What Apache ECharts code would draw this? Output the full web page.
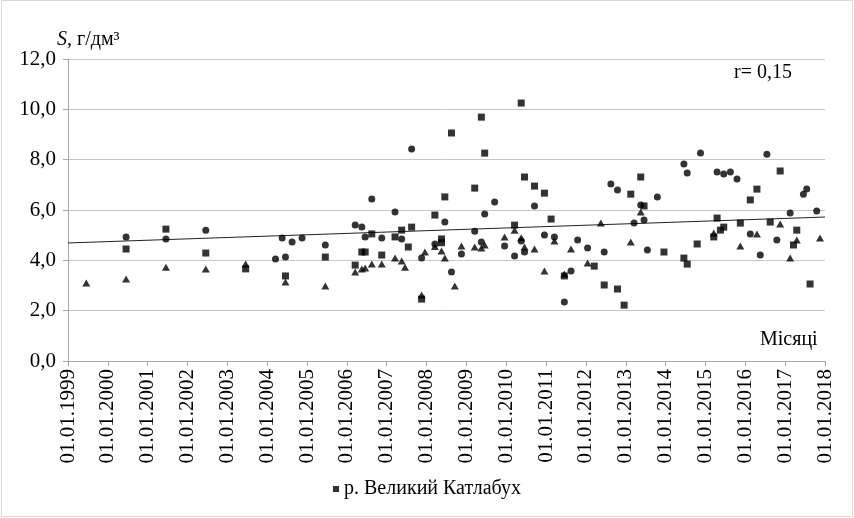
<!DOCTYPE html>
<html>
<head>
<meta charset="utf-8">
<script src="https://cdn.jsdelivr.net/npm/echarts@6/dist/echarts.min.js"></script>
<style>
  html, body { margin: 0; padding: 0; background: #fff; }
  #chart { width: 854px; height: 518px; }
</style>
</head>
<body>
<div id="chart"></div>
<script>
// Sampling dates (year-month) and salinity S, g/dm3, for three observation groups
const squareDates = ['2000-06','2001-06','2002-06','2003-06','2004-06','2005-06','2006-03','2006-05','2006-06','2006-08',
  '2006-11','2007-03','2007-05','2007-07','2007-08','2007-11','2008-03','2008-05','2008-05','2008-06',
  '2008-08','2009-03','2009-05','2009-06','2010-03','2010-05','2010-06','2010-09','2010-12','2011-02',
  '2011-06','2012-03','2012-06','2012-10','2012-12','2013-02','2013-05','2013-06','2013-12','2014-06',
  '2014-07','2014-10','2015-03','2015-04','2015-05','2015-06','2015-11','2016-02','2016-04','2016-08',
  '2016-11','2017-03','2017-04','2017-08'];
const squareValues = [4.45,5.24,4.29,3.66,3.38,4.13,3.81,4.33,4.33,5.05,
  4.21,4.93,5.20,4.53,5.32,2.46,5.80,4.85,4.70,6.52,
  9.06,6.87,9.69,8.26,5.40,10.25,7.31,6.95,6.67,5.64,
  3.38,3.77,3.02,2.86,2.22,6.63,7.31,6.16,4.33,4.09,
  3.85,4.65,4.93,5.68,5.20,5.32,5.48,6.40,6.83,5.52,
  7.55,4.61,5.20,3.06];

const circleDates = ['2000-06','2001-06','2002-06','2004-03','2004-05','2004-06','2004-08','2004-11','2005-06','2006-03',
  '2006-05','2006-06','2006-08','2006-11','2007-03','2007-05','2007-08','2007-11','2008-03','2008-06',
  '2008-08','2008-11','2009-03','2009-05','2009-06','2009-09','2009-12','2010-03','2010-05','2010-06',
  '2010-09','2010-12','2011-03','2011-06','2011-08','2011-10','2012-01','2012-06','2012-08','2012-10',
  '2013-03','2013-05','2013-06','2013-07','2013-10','2014-06','2014-07','2014-11','2015-04','2015-06',
  '2015-08','2015-10','2016-02','2016-05','2016-07','2016-10','2017-02','2017-06','2017-07','2017-10'];
const circleValues = [4.93,4.85,5.20,4.05,4.89,4.13,4.73,4.89,4.61,5.40,
  5.32,4.93,6.44,4.89,5.92,4.85,8.42,4.09,4.65,5.52,
  3.54,4.25,5.16,4.73,5.84,6.32,4.57,4.17,4.77,4.33,
  6.16,5.01,4.93,2.34,3.58,4.81,4.49,4.33,7.03,6.79,
  5.48,6.20,5.60,4.41,6.52,7.83,7.47,8.26,7.51,7.43,
  7.51,7.23,5.05,4.21,8.22,4.81,5.88,6.63,6.83,5.96];

const triangleDates = ['1999-06','2000-06','2001-06','2002-06','2003-06','2004-06','2005-06','2006-03','2006-05','2006-06',
  '2006-08','2006-11','2007-03','2007-05','2007-06','2007-11','2007-12','2008-03','2008-05','2008-06',
  '2008-09','2008-11','2009-03','2009-05','2009-06','2009-12','2010-03','2010-05','2010-06','2010-09',
  '2010-12','2011-03','2011-06','2011-08','2012-01','2012-05','2013-02','2013-05','2015-03','2015-11',
  '2016-04','2016-11','2017-02','2017-04','2017-11'];
const triangleValues = [3.10,3.26,3.73,3.66,3.85,3.14,2.98,3.54,3.66,3.70,
  3.85,3.85,4.09,3.97,3.73,2.62,4.33,4.55,4.37,4.09,
  2.98,4.57,4.53,4.49,4.61,4.93,5.20,4.90,4.53,4.45,
  3.58,4.77,3.46,4.45,3.89,5.48,4.73,5.92,5.09,4.57,
  5.05,5.44,4.09,4.81,4.89];

// Linear trend: years and values at its ends
const trendYears = [1999, 2018];
const trendValues = [4.69, 5.72];

// Axis settings
const yearTicks = { min: 1999, max: 2018, step: 1 };
const valueTicks = { min: 0, max: 12, step: 2 };

const legendName = 'р. Великий Катлабух';
const yTitle = 'S';
const yUnit = ', г/дм³';
const corrText = 'r= 0,15';
const xTitle = 'Місяці';

const SERIF = 'Liberation Serif';

function toYear(s) {
  const [y, m] = s.split('-').map(Number);
  return y + (m - 0.5) / 12;
}
function pairs(dates, values) {
  return dates.map((d, i) => [toYear(d), values[i]]);
}

const chart = echarts.init(document.getElementById('chart'), null, { renderer: 'canvas' });

chart.setOption({
  backgroundColor: '#ffffff',
  animation: false,
  textStyle: { fontFamily: SERIF },
  grid: { left: 68, right: 29, top: 59, bottom: 157, containLabel: false },
  xAxis: {
    type: 'value',
    min: yearTicks.min,
    max: yearTicks.max,
    interval: yearTicks.step,
    axisLine: { show: true, lineStyle: { color: '#a6a6a6', width: 1 } },
    axisTick: { show: true, length: 5, lineStyle: { color: '#a6a6a6' } },
    splitLine: { show: false },
    axisLabel: {
      rotate: 90,
      margin: 8,
      color: '#000',
      fontFamily: SERIF,
      fontSize: 21,
      formatter: v => '01.01.' + v
    }
  },
  yAxis: {
    type: 'value',
    min: valueTicks.min,
    max: valueTicks.max,
    interval: valueTicks.step,
    axisLine: { show: true, lineStyle: { color: '#a6a6a6', width: 1 } },
    axisTick: { show: true, length: 5, lineStyle: { color: '#a6a6a6' } },
    splitLine: { show: true, lineStyle: { color: '#c6c6c6', width: 1 } },
    axisLabel: {
      margin: 12,
      color: '#000',
      fontFamily: SERIF,
      fontSize: 21,
      formatter: v => v.toFixed(1).replace('.', ',')
    }
  },
  legend: {
    data: [legendName],
    bottom: 14,
    left: 'center',
    icon: 'rect',
    itemWidth: 6,
    itemHeight: 6,
    itemGap: 6,
    textStyle: { color: '#000', fontFamily: SERIF, fontSize: 20 }
  },
  series: [
    {
      name: 'Тренд',
      type: 'line',
      data: trendYears.map((y, i) => [y, trendValues[i]]),
      showSymbol: false,
      lineStyle: { color: '#222', width: 1 },
      silent: true,
      z: 1
    },
    {
      name: legendName,
      type: 'scatter',
      symbol: 'rect',
      symbolSize: 7,
      itemStyle: { color: '#000' },
      data: pairs(squareDates, squareValues),
      z: 3
    },
    {
      name: 'circles',
      type: 'scatter',
      symbol: 'circle',
      symbolSize: 7,
      itemStyle: { color: '#000' },
      data: pairs(circleDates, circleValues),
      z: 3
    },
    {
      name: 'triangles',
      type: 'scatter',
      symbol: 'triangle',
      symbolSize: [8, 7],
      itemStyle: { color: '#000' },
      data: pairs(triangleDates, triangleValues),
      z: 3
    }
  ],
  graphic: [
    {
      type: 'rect',
      shape: { x: 1.5, y: 0.5, width: 851, height: 516 },
      style: { fill: 'none', stroke: '#d9d9d9', lineWidth: 1 },
      silent: true
    },
    {
      type: 'text',
      left: 57,
      top: 30,
      style: {
        text: '{i|' + yTitle + '}{n|' + yUnit + '}',
        rich: {
          i: { fontFamily: SERIF, fontStyle: 'italic', fontSize: 20, fill: '#000' },
          n: { fontFamily: SERIF, fontSize: 20, fill: '#000' }
        }
      }
    },
    {
      type: 'text',
      left: 734,
      top: 63,
      style: { text: corrText, fontFamily: SERIF, fontSize: 20, fill: '#000' }
    },
    {
      type: 'text',
      left: 760,
      top: 330,
      style: { text: xTitle, fontFamily: SERIF, fontSize: 20, fill: '#000' }
    }
  ]
});
</script>
</body>
</html>
